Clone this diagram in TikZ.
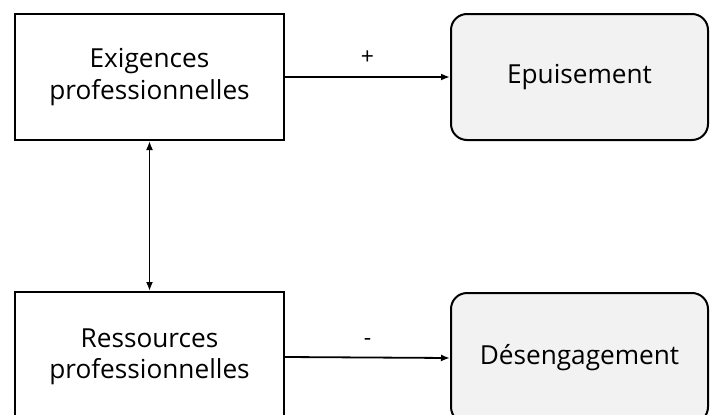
\documentclass[tikz,border=0pt]{standalone}
\usepackage{fontspec}
\setmainfont{Open Sans}
\usetikzlibrary{arrows.meta}
\begin{document}
\begin{tikzpicture}[x=1pt,y=-1pt,
  box/.style={draw=black, line width=2pt, fill=white, align=center, font=\fontsize{26.2}{31.5}\selectfont, inner sep=0pt},
  outbox/.style={draw=black, line width=2pt, fill=gray!10, rounded corners=16pt, align=center, font=\fontsize{26.2}{31.5}\selectfont, inner sep=0pt},
  conn/.style={line width=1.8pt, -{Latex[length=9pt,width=7pt]}},
  lbl/.style={font=\fontsize{23}{26}\selectfont}]
\useasboundingbox (0,0) rectangle (710,415);
\clip (0,0) rectangle (710,415);
\node[box, minimum width=269pt, minimum height=126pt] (ex) at (149.5,77) {Exigences\\professionnelles};
\node[box, minimum width=269pt, minimum height=130pt] (re) at (149.5,357) {Ressources\\professionnelles};
\node[outbox, minimum width=257pt, minimum height=126pt] (ep) at (579.5,77) {Epuisement};
\node[outbox, minimum width=257pt, minimum height=130pt] (de) at (579.5,358) {Désengagement};
\draw[conn] (ex.east) -- node[lbl, above=8pt] {+} (ep.west);
\draw[conn] (re.east) -- node[lbl, above=8pt] {-} (de.west);
\draw[line width=1.8pt, {Latex[length=9pt,width=7pt]}-{Latex[length=9pt,width=7pt]}] (ex.south) -- (re.north);
\end{tikzpicture}
\end{document}
